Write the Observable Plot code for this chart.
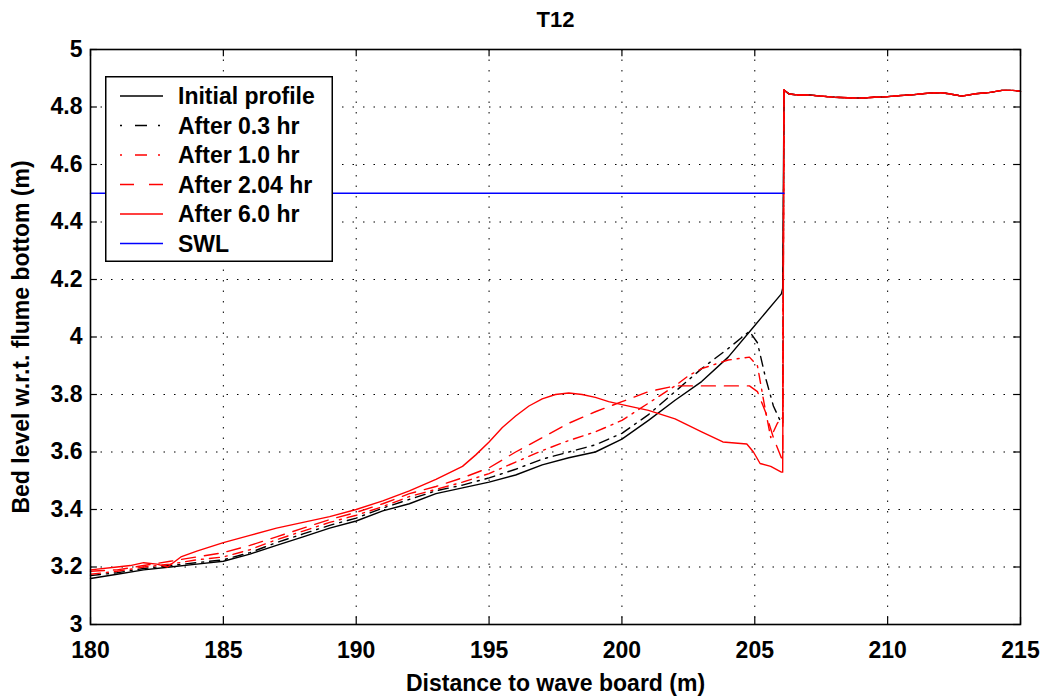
<!DOCTYPE html>
<html><head><meta charset="utf-8">
<script src="https://cdn.jsdelivr.net/npm/d3@7"></script>
<script src="https://cdn.jsdelivr.net/npm/@observablehq/plot@0.6"></script>
<style>
html,body{margin:0;padding:0;background:#fff;}
#wrap{position:relative;width:1048px;height:698px;}
#legend{position:absolute;left:105px;top:76px;}
</style></head><body>
<div id="wrap"><div id="chart"></div><div id="legend"></div></div>
<script>
const titleText = "T12";
const xLabel = "Distance to wave board (m)";
const yLabel = "Bed level w.r.t. flume bottom (m)";
const xTicks = [180,185,190,195,200,205,210,215];
const yTicks = [3,3.2,3.4,3.6,3.8,4,4.2,4.4,4.6,4.8,5];
const seriesNames = ["Initial profile","After 0.3 hr","After 1.0 hr","After 2.04 hr","After 6.0 hr","SWL"];

const initX = [180,181,182,183,184,185,186,187,188,189,190,191,192,193,194,195,196,197,198,199,200,201,202,203,204,205,206,206.05];
const initY = [3.16,3.175,3.19,3.20,3.21,3.22,3.245,3.275,3.305,3.335,3.36,3.395,3.42,3.455,3.475,3.495,3.52,3.555,3.58,3.60,3.645,3.71,3.78,3.845,3.93,4.04,4.15,4.17];

const a03X = [180,181,182,183,184,185,186,187,188,189,190,191,192,193,194,195,196,197,198,199,200,201,202,203,204,204.8,205.1,205.4,205.7,206.0,206.05];
const a03Y = [3.17,3.18,3.195,3.205,3.215,3.225,3.25,3.285,3.315,3.345,3.37,3.405,3.435,3.465,3.485,3.51,3.54,3.575,3.60,3.625,3.665,3.73,3.81,3.89,3.96,4.02,3.98,3.86,3.76,3.70,3.70];

const a10X = [180,181,182,183,184,185,186,187,188,189,190,191,192,193,194,195,196,197,198,199,200,201,202,202.5,203,204,204.8,205.1,205.35,205.6,205.85,206.05];
const a10Y = [3.175,3.185,3.20,3.21,3.225,3.235,3.26,3.295,3.325,3.355,3.38,3.41,3.445,3.47,3.495,3.525,3.565,3.605,3.64,3.67,3.71,3.77,3.83,3.865,3.89,3.92,3.93,3.90,3.77,3.65,3.70,3.72];

const a20X = [180,181,182,183,184,185,186,187,188,189,190,191,192,193,194,195,196,197,198,199,200,201,202,203,204,204.8,205.1,205.4,205.7,206.0,206.05];
const a20Y = [3.185,3.19,3.205,3.22,3.235,3.25,3.275,3.305,3.335,3.365,3.39,3.42,3.455,3.48,3.51,3.545,3.60,3.65,3.70,3.74,3.775,3.81,3.83,3.83,3.83,3.83,3.81,3.74,3.65,3.58,3.58];

const a60X = [180,181,181.5,182,182.5,182.9,183.4,184,185,186,187,188,189,190,191,192,193,194,194.5,195,195.5,196,196.5,197,197.5,198,198.5,199,199.5,200,201,202,203,203.8,204.7,204.95,205.2,205.6,206.0,206.05];
const a60Y = [3.19,3.20,3.205,3.215,3.21,3.20,3.235,3.255,3.285,3.31,3.335,3.355,3.375,3.40,3.43,3.465,3.505,3.55,3.59,3.635,3.685,3.725,3.76,3.785,3.80,3.805,3.80,3.79,3.775,3.765,3.745,3.715,3.67,3.635,3.628,3.60,3.56,3.55,3.53,3.53];

const plateauX = [206.1,206.15,206.3,206.6,207,207.5,208,208.5,209,209.5,210,210.5,211,211.5,212,212.3,212.8,213.3,213.8,214.3,214.7,215];
const plateauY = [4.86,4.855,4.845,4.842,4.842,4.838,4.834,4.832,4.831,4.834,4.836,4.84,4.843,4.848,4.85,4.846,4.838,4.846,4.85,4.858,4.858,4.855];

const swlX = [180,206.1];
const swlY = [4.5,4.5];

function rows(xs, ys, withPlateau) {
  const r = xs.map((x, i) => ({x, y: ys[i]}));
  if (withPlateau) plateauX.forEach((x, i) => r.push({x, y: plateauY[i]}));
  return r;
}

const styles = [
  {stroke: "#000000", dash: null, legDash: null, width: 1.4},
  {stroke: "#000000", dash: "10,6,2,6", legDash: "2,13,12,11", width: 1.4},
  {stroke: "#ff0000", dash: "10,6,2,6", legDash: "2,13,12,11", width: 1.4},
  {stroke: "#ff0000", dash: "14,9", legDash: "14,15", width: 1.4},
  {stroke: "#ff0000", dash: null, legDash: null, width: 1.4},
  {stroke: "#0000ff", dash: null, legDash: null, width: 1.3}
];
const seriesData = [
  rows(initX, initY, true),
  rows(a03X, a03Y, true),
  rows(a10X, a10Y, true),
  rows(a20X, a20Y, true),
  rows(a60X, a60Y, true),
  rows(swlX, swlY, false)
];

const font = "'Liberation Sans', Arial, Helvetica, sans-serif";
const tickLenY = 0.025;
const tickLenX = 0.26;

const lineMarks = seriesData.map((d, i) => Plot.line(d, {
  x: "x", y: "y", stroke: styles[i].stroke, strokeWidth: styles[i].width,
  strokeDasharray: styles[i].dash || undefined, curve: "linear"
}));

const chart = Plot.plot({
  width: 1048, height: 698,
  marginLeft: 90, marginRight: 28, marginTop: 49, marginBottom: 74,
  style: {fontFamily: font, fontWeight: "bold", background: "#fff", color: "#000"},
  x: {domain: [180, 215]},
  y: {domain: [3, 5]},
  marks: [
    Plot.gridX(xTicks, {stroke: "#000", strokeOpacity: 1, strokeDasharray: "1.5,9", strokeWidth: 1}),
    Plot.gridY(yTicks, {stroke: "#000", strokeOpacity: 1, strokeDasharray: "1.5,9", strokeWidth: 1}),
    Plot.ruleX(xTicks, {y1: 3, y2: 3 + tickLenY, stroke: "#000", strokeWidth: 1.2}),
    Plot.ruleX(xTicks, {y1: 5 - tickLenY, y2: 5, stroke: "#000", strokeWidth: 1.2}),
    Plot.ruleY(yTicks, {x1: 180, x2: 180 + tickLenX, stroke: "#000", strokeWidth: 1.2}),
    Plot.ruleY(yTicks, {x1: 215 - tickLenX, x2: 215, stroke: "#000", strokeWidth: 1.2}),
    ...lineMarks,
    Plot.frame({stroke: "#000", strokeWidth: 1.6}),
    Plot.axisX(xTicks, {tickSize: 0, tickPadding: 17, fontSize: 23, fontWeight: "bold",
      label: xLabel, labelAnchor: "center", labelArrow: "none", labelOffset: 66}),
    Plot.axisY(yTicks, {tickSize: 0, tickPadding: 8, fontSize: 23, fontWeight: "bold",
      tickFormat: d3.format("~g"),
      label: yLabel, labelAnchor: "center", labelArrow: "none", labelOffset: 78}),
    Plot.text([titleText], {frameAnchor: "top", dy: -38, fontSize: 22, fontWeight: "bold", fill: "#000"})
  ]
});
document.getElementById("chart").appendChild(chart);

// legend
const lw = 228, lh = 186;
const leg = d3.select("#legend").append("svg").attr("width", lw).attr("height", lh)
  .style("font-family", font).style("font-weight", "bold");
leg.append("rect").attr("x", 0.75).attr("y", 0.75).attr("width", lw - 1.5).attr("height", lh - 1.5)
  .attr("fill", "#fff").attr("stroke", "#000").attr("stroke-width", 1.5);
seriesNames.forEach((name, i) => {
  const cy = 20 + i * 29.5;
  leg.append("line").attr("x1", 15).attr("x2", 58).attr("y1", cy).attr("y2", cy)
    .attr("stroke", styles[i].stroke).attr("stroke-width", styles[i].width)
    .attr("stroke-dasharray", styles[i].legDash);
  leg.append("text").attr("x", 73).attr("y", cy).attr("dy", "0.36em")
    .attr("font-size", 23).attr("fill", "#000").text(name);
});
</script>
</body></html>
